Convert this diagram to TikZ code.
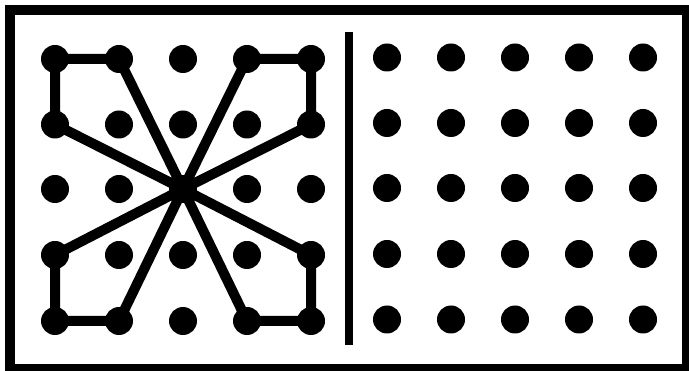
\documentclass[tikz,border=0pt]{standalone}
\begin{document}
\begin{tikzpicture}[x=1pt,y=-1pt,
  dot/.style={circle,fill=black,inner sep=0pt,minimum size=28pt},
  link/.style={line width=10pt,draw=black},
  frame/.style={line width=10pt,draw=black},
  divider/.style={line width=8pt,draw=black}]
\useasboundingbox[fill=white] (0,0) rectangle (689,371);
\draw[frame] (10,10) rectangle (687,369);
% left grid
\foreach \i/\x in {1/55,2/119,3/183,4/247,5/311}{
  \foreach \j/\y in {1/59,2/124.5,3/189,4/255,5/321}{
    \node[dot] (L-\i-\j) at (\x,\y) {};
  }
}
% right grid
\foreach \i/\x in {1/387,2/451,3/515,4/579,5/643}{
  \foreach \j/\y in {1/57.5,2/123,3/188,4/254,5/319.5}{
    \node[dot] (R-\i-\j) at (\x,\y) {};
  }
}
% divider
\coordinate (dtop) at (349,32.5);
\coordinate (dbot) at (349,345.5);
\draw[divider] (dtop) -- (dbot);
% star and corner paths
\begin{scope}[on background layer/.style={}]
\draw[link] (L-3-3.center) -- (L-2-1.center) -- (L-1-1.center) -- (L-1-2.center) -- (L-3-3.center);
\draw[link] (L-3-3.center) -- (L-4-1.center) -- (L-5-1.center) -- (L-5-2.center) -- (L-3-3.center);
\draw[link] (L-3-3.center) -- (L-1-4.center) -- (L-1-5.center) -- (L-2-5.center) -- (L-3-3.center);
\draw[link] (L-3-3.center) -- (L-5-4.center) -- (L-5-5.center) -- (L-4-5.center) -- (L-3-3.center);
\end{scope}
\end{tikzpicture}
\end{document}
